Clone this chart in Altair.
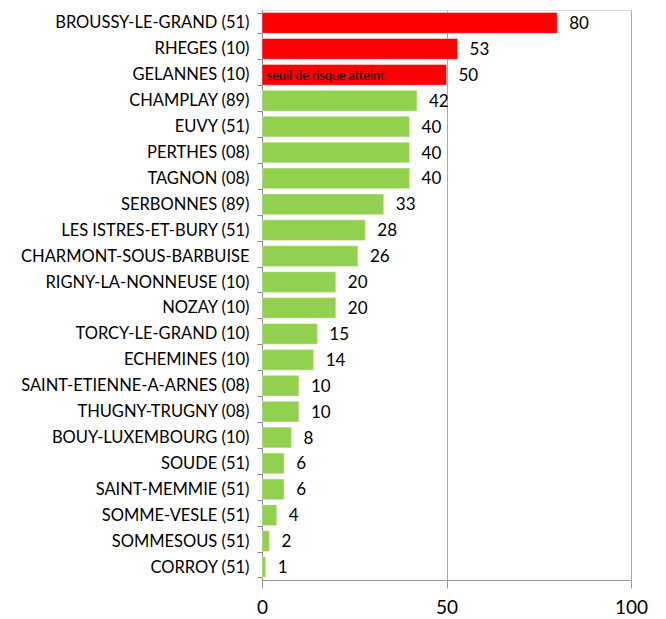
import altair as alt
import pandas as pd

communes = [
    "BROUSSY-LE-GRAND (51)", "RHEGES (10)", "GELANNES (10)", "CHAMPLAY (89)",
    "EUVY (51)", "PERTHES (08)", "TAGNON (08)", "SERBONNES (89)",
    "LES ISTRES-ET-BURY (51)", "CHARMONT-SOUS-BARBUISE", "RIGNY-LA-NONNEUSE (10)",
    "NOZAY (10)", "TORCY-LE-GRAND (10)", "ECHEMINES (10)", "SAINT-ETIENNE-A-ARNES (08)",
    "THUGNY-TRUGNY (08)", "BOUY-LUXEMBOURG (10)", "SOUDE (51)", "SAINT-MEMMIE (51)",
    "SOMME-VESLE (51)", "SOMMESOUS (51)", "CORROY (51)",
]
valeurs = [80, 53, 50, 42, 40, 40, 40, 33, 28, 26, 20, 20, 15, 14, 10, 10, 8, 6, 6, 4, 2, 1]
seuil = 50
note = "seuil de risque atteint"
note_commune = "GELANNES (10)"

df = pd.DataFrame({"commune": communes, "valeur": valeurs})
df["groupe"] = ["risque" if v >= seuil else "normal" for v in valeurs]

font = "Lato, Open Sans, sans-serif"

y_enc = alt.Y(
    "commune:N", sort=communes, title=None,
    scale=alt.Scale(paddingInner=0.2, paddingOuter=0.1),
    axis=alt.Axis(
        labelFont=font, labelFontSize=16.5, labelColor="#000000", labelPadding=8,
        tickBand="extent", tickSize=5, tickColor="#888888",
        domainColor="#888888", grid=False, labelLimit=300,
    ),
)
x_enc = alt.X(
    "valeur:Q", title=None,
    scale=alt.Scale(domain=[0, 100], nice=False),
    axis=alt.Axis(
        values=[0, 50, 100], labelFont=font, labelFontSize=19, labelColor="#000000",
        labelPadding=10, tickSize=8, tickColor="#999999", domainColor="#999999",
        grid=True, gridColor="#aaaaaa", gridWidth=1, labelFlush=False,
    ),
)

bars = alt.Chart(df).mark_bar(stroke="#ffffff", strokeOpacity=0.4, strokeWidth=1).encode(
    y=y_enc, x=x_enc,
    color=alt.Color("groupe:N",
                    scale=alt.Scale(domain=["risque", "normal"], range=["#ff0000", "#92d050"]),
                    legend=None),
)

labels = alt.Chart(df).mark_text(
    align="left", baseline="middle", dx=12, dy=1, font=font, fontSize=17, color="#000000"
).encode(y=alt.Y("commune:N", sort=communes), x="valeur:Q", text="valeur:Q")

note_df = pd.DataFrame({"commune": [note_commune], "valeur": [0], "txt": [note]})
note_text = alt.Chart(note_df).mark_text(
    align="left", baseline="middle", dx=5, dy=1, font=font, fontSize=12.5, color="#000000"
).encode(y=alt.Y("commune:N", sort=communes), x="valeur:Q", text="txt:N")

chart = alt.layer(bars, labels, note_text).properties(
    width=369, height=570,
    autosize=alt.AutoSizeParams(type="none"),
    padding={"left": 254, "top": 2, "right": 20, "bottom": 40},
).configure_view(stroke=None).configure(background="#ffffff")

chart.save("out.html", embed_options={"renderer": "svg", "actions": False})
